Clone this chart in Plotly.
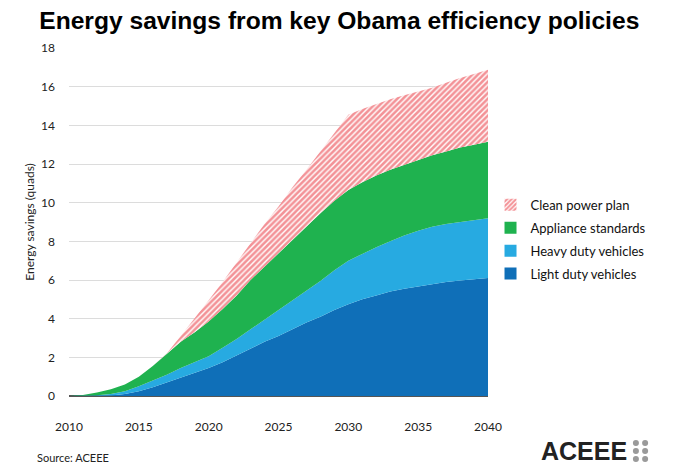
import plotly.graph_objects as go

years = list(range(2010, 2041))

# stacked layer values, quads
light_duty = [0, 0, 0.01, 0.03, 0.1, 0.25, 0.45, 0.7, 0.95, 1.2, 1.45, 1.75, 2.1, 2.45, 2.8, 3.1,
              3.45, 3.8, 4.1, 4.45, 4.75, 5.0, 5.2, 5.4, 5.55, 5.68, 5.8, 5.9, 5.98, 6.05, 6.1]
heavy_duty = [0, 0.01, 0.03, 0.07, 0.15, 0.25, 0.35, 0.4, 0.5, 0.55, 0.6, 0.75, 0.85, 1.0, 1.15, 1.35,
              1.5, 1.65, 1.85, 2.05, 2.25, 2.35, 2.5, 2.6, 2.75, 2.87, 2.95, 3.0, 3.02, 3.05, 3.1]
appliance = [0, 0.04, 0.14, 0.25, 0.35, 0.5, 0.75, 1.1, 1.35, 1.55, 1.8, 2.0, 2.25, 2.55, 2.75, 2.9,
             3.1, 3.35, 3.5, 3.6, 3.65, 3.7, 3.7, 3.7, 3.65, 3.65, 3.7, 3.75, 3.85, 3.9, 3.95]
clean_power = [0, 0, 0, 0, 0, 0, 0, 0, 0.3, 0.7, 1.1, 1.4, 1.7, 1.9, 2.2, 2.45,
               2.75, 2.9, 3.2, 3.5, 3.9, 3.8, 3.7, 3.65, 3.6, 3.55, 3.5, 3.55, 3.6, 3.65, 3.72]

FONT = "Lato, 'Liberation Sans', sans-serif"
RED_PATTERN = dict(shape="/", fgcolor="#E8262F", bgcolor="white", size=4, solidity=0.65)

fig = go.Figure()
series = [
    ("Light duty vehicles", light_duty, "#0F6FB8"),
    ("Heavy duty vehicles", heavy_duty, "#27AAE1"),
    ("Appliance standards", appliance, "#1FB24F"),
    ("Clean power plan", clean_power, "#E8262F"),
]
for name, vals, color in series:
    kw = dict(fillcolor=color)
    if name == "Clean power plan":
        kw = dict(fillcolor="white", fillpattern=RED_PATTERN)
    fig.add_trace(go.Scatter(
        x=years, y=vals, name=name, mode="lines", stackgroup="one", showlegend=False,
        line=dict(width=0, color=color), hoverinfo="x+y+name", **kw,
    ))

# legend entries only (small square swatches like the original), top layer first
for name, vals, color in reversed(series):
    marker = dict(color=color, line_width=0)
    if name == "Clean power plan":
        marker = dict(color="white", pattern=RED_PATTERN, line_width=0)
    fig.add_trace(go.Bar(x=[None], y=[None], name=name, marker=marker,
                         legendgroup=name, hoverinfo="skip"))

# ACEEE logo dots
shapes = []
for cx in (1.353, 1.375):
    for cy in (-0.135, -0.158, -0.181):
        shapes.append(dict(type="circle", xref="paper", yref="paper",
                           x0=cx - 0.0072, x1=cx + 0.0072, y0=cy - 0.0086, y1=cy + 0.0086,
                           fillcolor="#9a9a9a", line_width=0))

# page body has an 8px margin, so the figure is sized/offset for it
fig.update_layout(
    width=672, height=465,
    margin=dict(l=61, r=192, t=40, b=77),
    paper_bgcolor="white", plot_bgcolor="white",
    font=dict(family=FONT, size=12, color="#222"),
    title=dict(text="<b>Energy savings from key Obama efficiency policies</b>",
               x=0.493, xanchor="center", y=0.974, yanchor="middle",
               font=dict(family="'Liberation Sans', Arial, sans-serif", size=24.6, color="black")),
    showlegend=True,
    legend=dict(x=1.006, y=0.45, xanchor="left", yanchor="middle", traceorder="grouped",
                font=dict(family=FONT, size=13, color="#111"), itemwidth=30,
                tracegroupgap=3, bgcolor="rgba(0,0,0,0)"),
    xaxis=dict(range=[2010, 2040], dtick=5, tick0=2010, showgrid=False, zeroline=False,
               showline=False, ticks="", ticklabelstandoff=22,
               tickfont=dict(family=FONT, size=12, color="#222")),
    yaxis=dict(range=[0, 18], dtick=2, showgrid=True, gridcolor="#dcdcdc", gridwidth=1,
               zeroline=True, zerolinecolor="#555", zerolinewidth=1.5,
               ticks="", ticklabelstandoff=13,
               tickfont=dict(family=FONT, size=12, color="#222"),
               title=dict(text="Energy savings (quads)", standoff=3,
                          font=dict(family=FONT, size=12, color="#222"))),
    shapes=shapes,
    annotations=[
        dict(text="Source: ACEEE", xref="paper", yref="paper", x=-0.082, y=-0.176,
             xanchor="left", yanchor="middle", showarrow=False,
             font=dict(family=FONT, size=11, color="#222")),
        dict(text="<b>ACEEE</b>", xref="paper", yref="paper", x=1.336, y=-0.158,
             xanchor="right", yanchor="middle", showarrow=False,
             font=dict(family="'Liberation Sans', sans-serif", size=25, color="#222")),
    ],
)

fig.write_html("out.html")
